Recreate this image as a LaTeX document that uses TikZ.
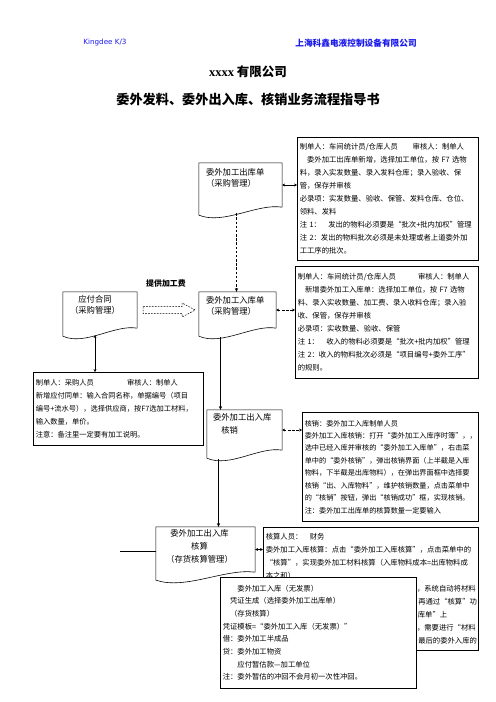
\documentclass[tikz,border=0pt]{standalone}
\usepackage{fontspec}
\setmainfont{Noto Sans CJK SC}
\newfontfamily\latinserif{Liberation Serif}
\newfontfamily\latinsans{DejaVu Sans}
\usetikzlibrary{positioning,arrows.meta,calc}
\definecolor{hdrblue}{RGB}{25,25,235}
% document shape: rectangle with a wavy bottom below the node
\newcommand{\docframe}[1]{%
  \draw[frame] ($(#1.south west)+(0,8)$) -- (#1.north west) -- (#1.north east) -- (#1.south east)
    .. controls ($(#1.south east)!0.3!(#1.south west)+(0,-4)$) and ($(#1.south east)!0.7!(#1.south west)+(0,18)$) .. ($(#1.south west)+(0,8)$) -- cycle;}

\begin{document}
\begin{tikzpicture}[x=1.2pt, y=-1.2pt,
  frame/.style={line width=0.7pt},
  docbox/.style={inner sep=0pt},
  doctext/.style={inner sep=0pt, align=left, font=\fontsize{10}{13.2}\selectfont},
  note/.style={draw, line width=0.7pt, anchor=north west, align=left,
               inner xsep=3pt, inner ysep=2pt, font=\fontsize{8.8}{15.6}\selectfont},
  link/.style={{Stealth[length=3.5pt,width=3.5pt]}-{Stealth[length=3.5pt,width=3.5pt]}, line width=0.8pt},
  dlink/.style={link, dash pattern=on 3pt off 2pt},
  flow/.style={-{Stealth[length=4.5pt,width=4pt]}, line width=0.8pt},
  dflow/.style={flow, dash pattern=on 3pt off 2pt}
]
  \useasboundingbox (0,0) rectangle (496,702);

  % header and title
  \node[text=hdrblue, font=\latinsans\fontsize{8.6}{10}\selectfont] (brand) at (105,43) {Kingdee K/3};
  \node[text=hdrblue, font=\bfseries\fontsize{10.4}{12}\selectfont] (firm) at (356,43) {上海科鑫电液控制设备有限公司};
  \node[font=\bfseries\fontsize{15}{17}\selectfont] (title) at (248,72) {{\latinserif xxxx} 有限公司};
  \node[font=\bfseries\fontsize{15.8}{18}\selectfont] (subtitle) at (248,99) {委外发料、委外出入库、核销业务流程指导书};

  % document shapes
  \node[docbox, minimum width=99.6pt, minimum height=52.8pt] (out) at (240.5,185) {};
  \node[docbox, minimum width=92.4pt, minimum height=43.2pt] (inbill) at (237.5,310) {};
  \node[docbox, minimum width=88.8pt, minimum height=43.2pt] (pay) at (100,310) {};
  \node[docbox, minimum width=90pt, minimum height=48pt] (chk) at (244.5,430) {};
  \node[docbox, minimum width=118.8pt, minimum height=54pt] (acc) at (205.5,549.5) {};
  \docframe{out}
  \docframe{inbill}
  \docframe{pay}
  \docframe{chk}
  \docframe{acc}
  \node[doctext, anchor=north west] at ($(out.north west)+(7,5)$) {委外加工出库单\\（采购管理）};
  \node[doctext, anchor=north west] at ($(inbill.north west)+(7,4)$) {委外加工入库单\\（采购管理）};
  \node[doctext, anchor=north, align=center] at ($(pay.north)+(-5,3)$) {应付合同\\（采购管理）};
  \node[doctext, anchor=north west, font=\fontsize{10}{15.6}\selectfont] at ($(chk.north west)+(6,3)$) {委外加工出入库\\　核销};
  \node[doctext, anchor=north, align=center, font=\fontsize{10}{16}\selectfont] at ($(acc.north)+(-6,2)$) {委外加工出入库\\核算\\（存货核算管理）};

  % notes
  \node[note, text width=211pt, minimum height=147.6pt] (n1) at (297,137)
    {制单人：车间统计员/仓库人员　　审核人：制单人\\
     　委外加工出库单新增，选择加工单位，按 F7 选物\\
     料，录入实发数量、录入发料仓库；录入验收、保\\
     管，保存并审核\\
     必录项：实发数量、验收、保管、发料仓库、仓位、\\
     领料、发料\\
     注 1：　发出的物料必须要是“批次+批内加权”管理\\
     注 2：发出的物料批次必须是未处理或者上道委外加\\
     工工序的批次。};
  \node[note, text width=213pt, minimum height=134.4pt] (n2) at (295,266)
    {制单人：车间统计员/仓库人员　　　审核人：制单人\\
     　新增委外加工入库单：选择加工单位，按 F7 选物\\
     料、录入实收数量、加工费、录入收料仓库；录入验\\
     收、保管，保存并审核\\
     必录项：实收数量、验收、保管\\
     注 1：　收入的物料必须要是“批次+批内加权”管理\\
     注 2：收入的物料批次必须是“项目编号+委外工序”\\
     的规则。};
  \node[note, text width=198pt, minimum height=87.6pt, font=\fontsize{8.7}{15.6}\selectfont] (nl) at (33,372)
    {制单人：采购人员\hspace*{4.6em}审核人：制单人\\
     新增应付同单：输入合同名称，单据编号（项目\\
     编号+流水号），选择供应商，按F7选加工材料，\\
     输入数量，单价。\\
     注意：备注里一定要有加工说明。};
  \node[note, text width=205pt, minimum height=131pt, font=\fontsize{8.6}{14.9}\selectfont] (n3) at (302,412)
    {核销：委外加工入库制单人员\\
     委外加工入库核销：打开“委外加工入库序时簿”，，\\
     选中已经入库并审核的“委外加工入库单”，右击菜\\
     单中的“委外核销”，弹出核销界面（上半截是入库\\
     物料，下半截是出库物料），在弹出界面框中选择要\\
     核销“出、入库物料”，维护核销数量，点击菜单中\\
     的“核销”按钮，弹出“核销成功”框，实现核销。\\
     注：委外加工出库单的核算数量一定要输入};
  \node[note, text width=252pt, minimum height=147.6pt, font=\fontsize{8.8}{15.5}\selectfont] (n4) at (263,527)
    {核算人员：　财务\\
     委外加工入库核算：点击“委外加工入库核算”，点击菜单中的\\
     “核算”，实现委外加工材料核算（入库物料成本=出库物料成\\
     本之和）\\
     \hspace*{181.5pt}，系统自动将材料\\
     \hspace*{183pt}再通过“核算”功\\
     \hspace*{182.5pt}库单”上\\
     \hspace*{181.5pt}，需要进行“材料\\
     \hspace*{183pt}最后的委外入库的};

  % connectors
  \draw[link] (out.east) -- (out.east -| n1.west);
  \coordinate (ob) at ($(out.south)+(-4,6)$);
  \draw[dflow] (ob) -- (ob |- inbill.north);
  \draw[dlink] (inbill.east) -- (inbill.east -| n2.west);
  \draw[dash pattern=on 2pt off 1.5pt, line width=0.6pt, shift={(pay.east)}]
    (6,-3.5) -- (45,-3.5) -- (45,-7) -- (58,0) -- (45,7) -- (45,3.5) -- (6,3.5) -- cycle;
  \node[font=\bfseries\fontsize{9.5}{11}\selectfont] (fee) at (166,283) {提供加工费};
  \coordinate (pb) at ($(pay.south)+(-5,7)$);
  \draw[link] (pb) -- (pb |- nl.north);
  \coordinate (ib) at ($(inbill.south)+(-17,9)$);
  \draw[flow] (ib) -- (ib |- chk.north);
  \draw[dlink] (chk.east) -- (chk.east -| n3.west);
  \coordinate (cb) at ($(chk.south)+(-26,9)$);
  \draw[flow] (cb) -- (cb |- acc.north);
  \draw[link] (acc.east) -- (acc.east -| n4.west);
  \coordinate (al) at ($(acc.west)+(-36,2)$);
  \draw[line width=0.8pt] (al) -- (al -| acc.west);

  % voucher note laid over the costing note
  \node[note, fill=white, text width=229pt, minimum height=133.2pt, font=\fontsize{8.8}{15.2}\selectfont] (n5) at (220,577)
    {　　委外加工入库（无发票）\\
     　凭证生成（选择委外加工出库单）\\
     　（存货核算）\\
     凭证模板=“委外加工入库（无发票）”\\
     借：委外加工半成品\\
     贷：委外加工物资\\
     　　应付暂估款—加工单位\\
     注：委外暂估的冲回不会月初一次性冲回。};
\end{tikzpicture}
\end{document}
